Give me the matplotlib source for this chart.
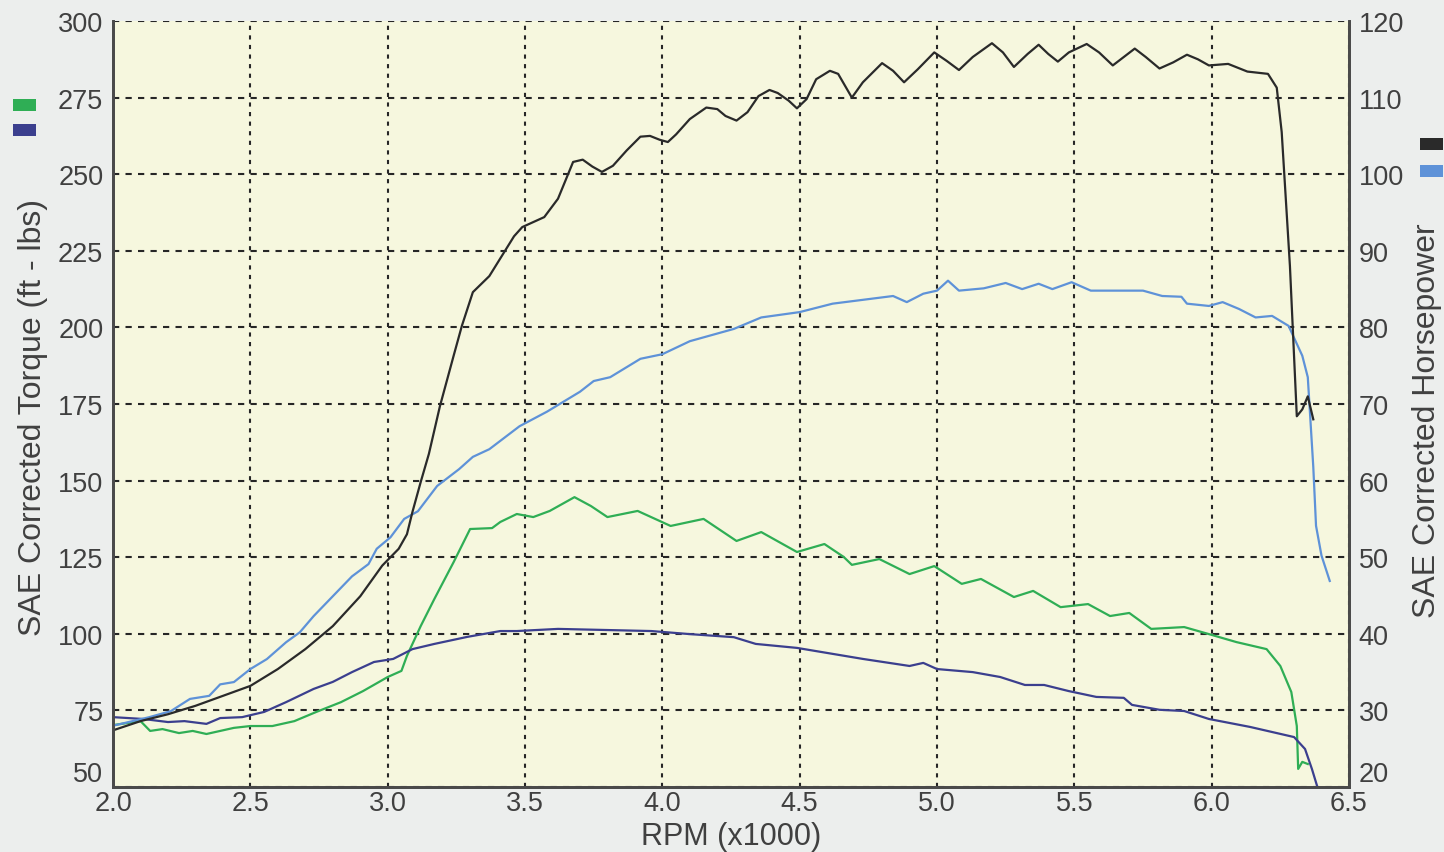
import matplotlib
matplotlib.use("Agg")
import matplotlib.pyplot as plt
from matplotlib.patches import Rectangle

plt.rcParams['font.family'] = ['Liberation Sans', 'DejaVu Sans']

# run 1: horsepower (black) / torque (green)
hp1_rpm = [2.00, 2.10, 2.20, 2.30, 2.40, 2.50, 2.60, 2.70, 2.80, 2.90, 2.98, 3.04,
           3.07, 3.09, 3.12, 3.15, 3.19, 3.24, 3.27, 3.31, 3.37, 3.46, 3.49, 3.57,
           3.62, 3.675, 3.71, 3.745, 3.78, 3.82, 3.87, 3.92, 3.955, 3.99, 4.02, 4.05,
           4.10, 4.16, 4.20, 4.23, 4.27, 4.31, 4.35, 4.39, 4.42, 4.46, 4.49, 4.525,
           4.56, 4.61, 4.64, 4.69, 4.73, 4.80, 4.84, 4.88, 4.93, 4.99, 5.035, 5.08,
           5.13, 5.20, 5.24, 5.28, 5.33, 5.37, 5.405, 5.44, 5.48, 5.545, 5.59, 5.64,
           5.68, 5.72, 5.76, 5.81, 5.86, 5.91, 5.95, 5.99, 6.06, 6.13, 6.205, 6.237,
           6.255, 6.285, 6.31, 6.33, 6.35, 6.37]
hp1 = [27.4, 28.6, 29.5, 30.6, 31.9, 33.2, 35.4, 38.0, 41.0, 44.9, 48.9, 51.1,
       53.0, 55.9, 59.8, 63.5, 69.7, 76.3, 80.2, 84.6, 86.7, 91.9, 93.1, 94.4,
       96.8, 101.6, 101.9, 101.0, 100.3, 101.1, 103.1, 104.9, 105.0, 104.5, 104.2, 105.2,
       107.2, 108.7, 108.5, 107.6, 107.0, 108.1, 110.2, 111.0, 110.6, 109.6, 108.6, 109.8,
       112.4, 113.5, 113.1, 110.0, 112.0, 114.5, 113.5, 112.0, 113.7, 115.9, 114.8, 113.6,
       115.3, 117.1, 115.9, 114.0, 115.7, 116.9, 115.7, 114.7, 115.9, 117.0, 115.9, 114.2,
       115.3, 116.4, 115.3, 113.8, 114.6, 115.6, 115.0, 114.2, 114.4, 113.4, 113.1, 111.3,
       105.5, 88.0, 68.4, 69.3, 71.0, 68.0]

tq1_rpm = [2.00, 2.10, 2.135, 2.18, 2.24, 2.29, 2.34, 2.44, 2.50, 2.58, 2.66, 2.74,
           2.83, 2.91, 3.00, 3.05, 3.07, 3.12, 3.17, 3.24, 3.30, 3.38, 3.41, 3.47,
           3.53, 3.59, 3.68, 3.74, 3.80, 3.91, 4.03, 4.15, 4.27, 4.36, 4.49, 4.59,
           4.66, 4.69, 4.79, 4.90, 4.99, 5.09, 5.16, 5.28, 5.35, 5.45, 5.55, 5.63,
           5.70, 5.78, 5.90, 5.99, 6.09, 6.20, 6.25, 6.29, 6.31, 6.315, 6.33, 6.35]
tq1 = [70.2, 71.5, 68.3, 68.9, 67.6, 68.3, 67.3, 69.3, 69.9, 69.9, 71.5, 74.5,
       77.7, 81.3, 85.9, 87.9, 92.8, 102.5, 111.4, 123.4, 134.2, 134.5, 136.5, 139.1,
       138.1, 140.1, 144.6, 141.7, 138.1, 140.1, 135.2, 137.5, 130.3, 133.2, 126.7, 129.3,
       125.1, 122.5, 124.4, 119.5, 122.1, 116.3, 117.9, 112.0, 114.0, 108.7, 109.7, 105.8,
       106.8, 101.6, 102.2, 99.9, 97.3, 95.0, 89.5, 81.0, 69.9, 55.9, 58.2, 57.5]

# run 2: horsepower (light blue) / torque (dark blue)
hp2_rpm = [2.00, 2.13, 2.21, 2.28, 2.35, 2.39, 2.44, 2.50, 2.56, 2.63, 2.68, 2.73,
           2.80, 2.87, 2.93, 2.96, 3.01, 3.06, 3.11, 3.18, 3.26, 3.31, 3.37, 3.48,
           3.58, 3.70, 3.75, 3.81, 3.92, 4.00, 4.10, 4.26, 4.36, 4.50, 4.62, 4.84,
           4.89, 4.95, 5.00, 5.04, 5.08, 5.17, 5.25, 5.31, 5.37, 5.42, 5.49, 5.56,
           5.68, 5.75, 5.82, 5.89, 5.91, 5.99, 6.04, 6.10, 6.16, 6.22, 6.28, 6.33,
           6.35, 6.37, 6.38, 6.40, 6.43]
hp2 = [28.0, 29.1, 29.9, 31.5, 31.9, 33.4, 33.7, 35.4, 36.7, 38.9, 40.2, 42.3,
       44.9, 47.5, 49.1, 51.1, 52.6, 55.0, 56.0, 59.3, 61.5, 63.1, 64.1, 67.1,
       69.0, 71.6, 73.0, 73.5, 75.9, 76.5, 78.2, 79.8, 81.3, 82.0, 83.1, 84.1,
       83.3, 84.4, 84.8, 86.1, 84.8, 85.1, 85.8, 85.0, 85.7, 85.0, 85.9, 84.8,
       84.8, 84.8, 84.1, 84.0, 83.1, 82.8, 83.3, 82.4, 81.3, 81.5, 80.2, 76.3,
       73.5, 61.8, 54.1, 50.2, 46.9]

tq2_rpm = [2.00, 2.11, 2.20, 2.26, 2.34, 2.39, 2.47, 2.55, 2.63, 2.73, 2.80, 2.87,
           2.95, 3.02, 3.09, 3.17, 3.29, 3.41, 3.47, 3.62, 3.96, 4.10, 4.26, 4.34,
           4.49, 4.73, 4.90, 4.95, 5.00, 5.13, 5.23, 5.32, 5.39, 5.48, 5.58, 5.68,
           5.71, 5.81, 5.90, 5.99, 6.14, 6.30, 6.34, 6.365, 6.385]
tq2 = [72.8, 72.2, 71.2, 71.5, 70.6, 72.5, 72.8, 74.5, 77.7, 82.0, 84.3, 87.5,
       90.8, 91.8, 95.0, 96.7, 99.0, 100.9, 100.9, 101.6, 100.9, 99.9, 98.9, 96.7,
       95.4, 91.8, 89.5, 90.5, 88.5, 87.5, 85.9, 83.3, 83.3, 81.3, 79.4, 79.1,
       76.8, 75.2, 74.8, 72.2, 69.6, 66.3, 62.4, 55.9, 50.0]

x_ticks = [2.0, 2.5, 3.0, 3.5, 4.0, 4.5, 5.0, 5.5, 6.0, 6.5]
tq_ticks = [50, 75, 100, 125, 150, 175, 200, 225, 250, 275, 300]
hp_ticks = [20, 30, 40, 50, 60, 70, 80, 90, 100, 110, 120]

BLACK = '#2a2a2a'
LBLUE = '#5e92d8'
GREEN = '#2fae55'
DBLUE = '#3b3f8e'
TXT = '#404040'

fig = plt.figure(figsize=(14.44, 8.53), dpi=100, facecolor='#eceeed')
ax = fig.add_axes([0.0783, 0.0762, 0.8559, 0.8980])
ax.set_facecolor('#f6f7de')
ax2 = ax.twinx()

ax.plot(tq1_rpm, tq1, color=GREEN, lw=1.6)
ax.plot(tq2_rpm, tq2, color=DBLUE, lw=1.6)
ax2.plot(hp2_rpm, hp2, color=LBLUE, lw=1.6)
ax2.plot(hp1_rpm, hp1, color=BLACK, lw=1.6)

ax.set_xlim(2.0, 6.5)
ax.set_ylim(50, 300)
ax2.set_ylim(20, 120)
ax.set_xticks(x_ticks)
ax.set_xticklabels([f'{v:.1f}' for v in x_ticks])
ax.set_yticks(tq_ticks)
ax2.set_yticks(hp_ticks)

ax.xaxis.grid(True, color='#262626', lw=1.5, linestyle=(0, (2.0, 2.6)))
ax.yaxis.grid(True, color='#262626', lw=1.5, linestyle=(0, (3.0, 3.0)))
ax.set_axisbelow(True)

for a in (ax, ax2):
    a.tick_params(length=0, pad=7, labelsize=19.5, labelcolor=TXT)
    a.tick_params(axis='x', pad=2)
    a.spines['top'].set_visible(False)
    for s in ('left', 'right', 'bottom'):
        a.spines[s].set_color('#4a4a4a')
        a.spines[s].set_linewidth(2)

# bottom labels sit above the axis line
ax.get_yticklabels()[0].set_va('bottom')
ax2.get_yticklabels()[0].set_va('bottom')

fig.text(0.0783 + 0.8559 / 2, 1 / 853, 'RPM (x1000)', fontsize=22, color=TXT,
         ha='center', va='bottom')
ax.set_ylabel('SAE Corrected Torque (ft - lbs)', fontsize=23, color=TXT, labelpad=7)
ax2.set_ylabel('SAE Corrected Horsepower', fontsize=23, color=TXT, labelpad=6)
ax.yaxis.label.set_y(0.484)
ax2.yaxis.label.set_y(0.48)

# colour keys beside the axis titles
W, H = 1444, 853
keys = [(13, 100, GREEN), (13, 125, DBLUE), (1420, 139, BLACK), (1420, 166, LBLUE)]
for kx, ky, kc in keys:
    fig.add_artist(Rectangle((kx / W, 1 - (ky + 12) / H), 23 / W, 12 / H,
                             transform=fig.transFigure, color=kc, lw=0))

fig.savefig('out.png', dpi=100, facecolor=fig.get_facecolor())
